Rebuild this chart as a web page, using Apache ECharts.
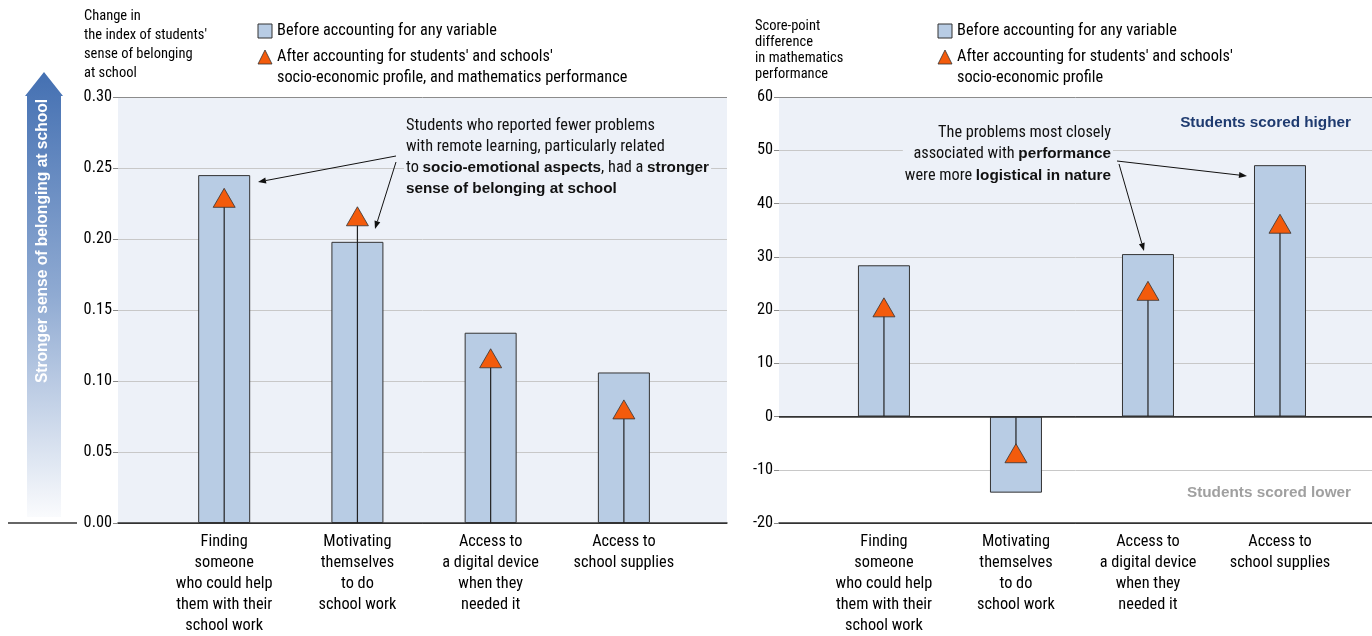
<!DOCTYPE html>
<html><head><meta charset="utf-8">
<script src="https://cdn.jsdelivr.net/npm/echarts@6/dist/echarts.min.js"></script>
<style>html,body{margin:0;padding:0;background:#fff}#c{width:1372px;height:636px}</style>
</head><body><div id="c"></div>
<script>
// ---- data ----
const categories = [
  'Finding\nsomeone\nwho could help\nthem with their\nschool work',
  'Motivating\nthemselves\nto do\nschool work',
  'Access to\na digital device\nwhen they\nneeded it',
  'Access to\nschool supplies'
];
const belongingBefore = [0.245, 0.198, 0.134, 0.106];
const belongingAfter  = [0.229, 0.216, 0.116, 0.080];
const mathBefore = [28.4, -14.3, 30.5, 47.2];
const mathAfter  = [20.5, -6.9, 23.6, 36.2];
const leftYTicks  = [0, 0.05, 0.10, 0.15, 0.20, 0.25, 0.30];
const rightYTicks = [-20, -10, 0, 10, 20, 30, 40, 50, 60];

// ---- style ----
const FONT = "'Liberation Sans Narrow','Arial Narrow','Roboto Condensed',sans-serif";
const BFONT = "'Liberation Sans',Arial,sans-serif";
const BG = '#EDF1F8';
const BAR = '#B8CCE4';
const ORANGE = '#F35B0C';
const GRIDC = '#C8C8C8';

const pos = categories.map((_, i) => i + 1);

function yAxisCfg(ticks, grid, fmt, areaColors, lineColors) {
  return {
    type: 'value', gridIndex: grid,
    min: ticks[0], max: ticks[ticks.length - 1], interval: ticks[1] - ticks[0],
    axisLine: { show: false },
    axisTick: { show: true, length: 5, lineStyle: { color: '#888' } },
    axisLabel: { color: '#000', fontFamily: FONT, fontSize: 16.3, margin: 6, formatter: fmt },
    splitLine: { show: true, lineStyle: { color: lineColors, width: 1 } },
    splitArea: { show: true, areaStyle: { color: areaColors } }
  };
}
function xAxisCfg(grid, min, max) {
  return {
    type: 'value', gridIndex: grid, min: min, max: max,
    axisLine: { show: true, onZero: false, lineStyle: { color: '#333', width: 1.5 } },
    axisTick: { show: false },
    splitLine: { show: false },
    axisLabel: {
      customValues: pos,
      color: '#000', fontFamily: FONT, fontSize: 16.3, lineHeight: 21, margin: 8,
      formatter: v => categories[Math.round(v) - 1] || ''
    }
  };
}
function stem(params, api) {
  const p0 = api.coord([api.value(0), 0]);
  const p1 = api.coord([api.value(0), api.value(1)]);
  return { type: 'line', shape: { x1: p0[0], y1: p0[1], x2: p1[0], y2: p1[1] },
           style: { stroke: '#222', lineWidth: 1.2 } };
}
function seriesFor(grid, before, after, extra) {
  const bar = {
    type: 'bar', xAxisIndex: grid, yAxisIndex: grid, barWidth: 52,
    data: pos.map((x, i) => [x, before[i]]),
    itemStyle: { color: BAR, borderColor: '#333', borderWidth: 1 },
    silent: true, z: 2
  };
  Object.assign(bar, extra || {});
  return [
    bar,
    { type: 'custom', xAxisIndex: grid, yAxisIndex: grid, renderItem: stem,
      data: pos.map((x, i) => [x, after[i]]), silent: true, z: 3 },
    { type: 'scatter', xAxisIndex: grid, yAxisIndex: grid, symbol: 'triangle', symbolSize: [22, 19],
      data: pos.map((x, i) => [x, after[i]]),
      itemStyle: { color: ORANGE, borderColor: '#333', borderWidth: 0.8, opacity: 1 },
      silent: true, z: 4 }
  ];
}

function arrow(x1, y1, x2, y2) {
  const a = Math.atan2(y2 - y1, x2 - x1), L = 8, W = 3;
  const bx = x2 - L * Math.cos(a), by = y2 - L * Math.sin(a);
  const px = -Math.sin(a) * W, py = Math.cos(a) * W;
  return [
    { type: 'line', shape: { x1: x1, y1: y1, x2: bx, y2: by }, style: { stroke: '#111', lineWidth: 1 }, z: 20 },
    { type: 'polygon', shape: { points: [[x2, y2], [bx + px, by + py], [bx - px, by - py]] }, style: { fill: '#111' }, z: 20 }
  ];
}

const legendItems = (x, secondText) => [
  { type: 'rect', shape: { x: x, y: 24, width: 14, height: 14 }, style: { fill: BAR, stroke: '#333', lineWidth: 1 } },
  { type: 'text', x: x + 19, y: 31, style: { text: 'Before accounting for any variable', fill: '#000', font: '16.3px ' + FONT, verticalAlign: 'middle' } },
  { type: 'polygon', shape: { points: [[x, 64], [x + 7, 50], [x + 14, 64]] }, style: { fill: ORANGE, stroke: '#333', lineWidth: 0.8 } },
  { type: 'text', x: x + 19, y: 46.5, style: { text: secondText, fill: '#000', font: '16.3px ' + FONT, lineHeight: 21, verticalAlign: 'top' } }
];

const richBold = { b: { fontWeight: 'bold', fontFamily: BFONT, fontSize: 15.3, lineHeight: 21 } };

const graphics = [].concat(
  [
    { type: 'polygon', shape: { points: [[27, 96], [25, 96], [44, 72], [63, 96], [61, 96], [61, 517], [27, 517]] },
      style: { fill: new echarts.graphic.LinearGradient(0, 0, 0, 1, [
        { offset: 0, color: '#4470B2' }, { offset: 0.5, color: '#8FAAD2' }, { offset: 1, color: '#FAFBFD' }]) } },
    { type: 'text', x: 43, y: 241, rotation: Math.PI / 2,
      style: { text: 'Stronger sense of belonging at school', fill: '#fff', font: 'bold 15.6px ' + BFONT, align: 'center', verticalAlign: 'middle' } },
    { type: 'line', shape: { x1: 8, y1: 523, x2: 77, y2: 523 }, style: { stroke: '#333', lineWidth: 1.5 } },
    { type: 'text', x: 84, y: 7, style: { text: "Change in\nthe index of students'\nsense of belonging\nat school", fill: '#000', font: '14.5px ' + FONT, lineHeight: 19, verticalAlign: 'top' } },
    { type: 'text', x: 755, y: 18, style: { text: 'Score-point\ndifference\nin mathematics\nperformance', fill: '#000', font: '14.5px ' + FONT, lineHeight: 16, verticalAlign: 'top' } },
    { type: 'text', x: 404, y: 115.5, z: 10,
      style: { text: "Students who reported fewer problems\nwith remote learning, particularly related\nto {b|socio-emotional aspects}, had a {b|stronger}\n{b|sense of belonging at school}",
        fill: '#111', font: '16.3px ' + FONT, lineHeight: 21, verticalAlign: 'top', backgroundColor: BG, padding: [0, 2],
        rich: richBold } },
    { type: 'text', x: 1113, y: 122, z: 10,
      style: { text: "The problems most closely\nassociated with {b|performance}\nwere more {b|logistical in nature}",
        fill: '#111', font: '16.3px ' + FONT, lineHeight: 21.5, align: 'right', verticalAlign: 'top', backgroundColor: BG, padding: [0, 2],
        rich: { b: { fontWeight: 'bold', fontFamily: BFONT, fontSize: 15.3, lineHeight: 21.5 } } } },
    { type: 'text', x: 1351, y: 123, z: 10, style: { text: 'Students scored higher', fill: '#1F3B70', font: 'bold 15.3px ' + BFONT, align: 'right', verticalAlign: 'middle' } },
    { type: 'text', x: 1351, y: 493, z: 10, style: { text: 'Students scored lower', fill: '#A0A0A0', font: 'bold 15.3px ' + BFONT, align: 'right', verticalAlign: 'middle' } }
  ],
  legendItems(258, "After accounting for students' and schools'\nsocio-economic profile, and mathematics performance"),
  legendItems(938, "After accounting for students' and schools'\nsocio-economic profile"),
  arrow(396, 156, 258, 182),
  arrow(396, 162, 375, 229),
  arrow(1117, 161, 1247, 176),
  arrow(1119, 164, 1144, 251)
);

const chart = echarts.init(document.getElementById('c'), null, { renderer: 'canvas' });
chart.setOption({
  animation: false,
  backgroundColor: '#fff',
  textStyle: { fontFamily: FONT },
  grid: [
    { left: 118, top: 97, width: 609, height: 426 },
    { left: 779, top: 97, width: 593, height: 426 }
  ],
  xAxis: [xAxisCfg(0, 0.203, 4.774), xAxisCfg(1, 0.205, 4.697)],
  yAxis: [
    yAxisCfg(leftYTicks, 0, v => v.toFixed(2), [BG],
      ['#333', GRIDC, GRIDC, GRIDC, GRIDC, GRIDC, '#8C8C8C']),
    yAxisCfg(rightYTicks, 1, v => String(v), ['#fff', '#fff', BG, BG, BG, BG, BG, BG],
      ['#333', GRIDC, '#333', GRIDC, GRIDC, GRIDC, GRIDC, GRIDC, '#8C8C8C'])
  ],
  series: [].concat(
    seriesFor(0, belongingBefore, belongingAfter),
    seriesFor(1, mathBefore, mathAfter, {
      markLine: { silent: true, symbol: 'none', label: { show: false },
        lineStyle: { color: '#333', width: 1.5, type: 'solid' }, data: [{ yAxis: 0 }] }
    })
  ),
  graphic: graphics
});
</script>
</body></html>
